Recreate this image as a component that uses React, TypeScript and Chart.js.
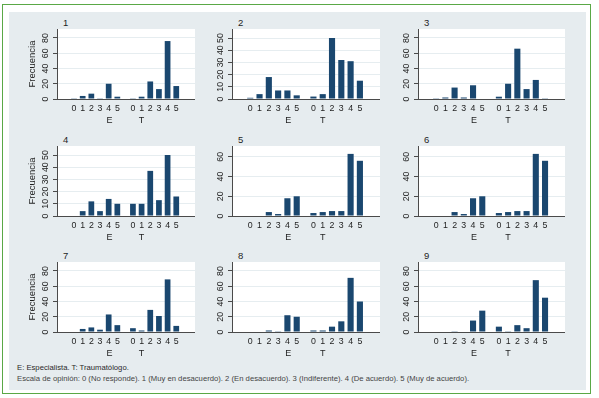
import React, { useEffect, useRef } from "react";
import { Chart, registerables } from "chart.js";

Chart.register(...registerables);

// ---- data ----
const categories = ["0", "1", "2", "3", "4", "5"];
const groupLabels = ["E", "T"];
const panelTitles = ["1", "2", "3", "4", "5", "6", "7", "8", "9"];
const yTitle = "Frecuencia";
const footLine1 = "E: Especialista. T: Traumatólogo.";
const footLine2 =
  "Escala de opinión: 0 (No responde). 1 (Muy en desacuerdo). 2 (En desacuerdo). 3 (Indiferente). 4 (De acuerdo). 5 (Muy de acuerdo).";

const e1 = [1, 4, 7, 1, 20, 3];
const t1 = [1, 3, 23, 13, 76, 17];
const e2 = [1, 4, 18, 7, 7, 3];
const t2 = [2, 4, 50, 32, 31, 15];
const e3 = [1, 2, 15, 2, 18, 0];
const t3 = [3, 20, 66, 13, 25, 1];
const e4 = [0, 4, 12, 4, 14, 10];
const t4 = [10, 10, 37, 13, 50, 16];
const e5 = [0, 0, 4, 2, 18, 20];
const t5 = [3, 4, 5, 5, 63, 56];
const e6 = [0, 0, 4, 2, 18, 20];
const t6 = [3, 4, 5, 5, 63, 56];
const e7 = [0, 4, 6, 3, 23, 9];
const t7 = [5, 2, 29, 21, 69, 8];
const e8 = [0, 0, 2, 1, 22, 20];
const t8 = [2, 2, 7, 14, 71, 40];
const e9 = [0, 0, 1, 0, 15, 28];
const t9 = [7, 1, 9, 5, 68, 45];

const yTicks80 = [0, 20, 40, 60, 80];
const yTicks50 = [0, 10, 20, 30, 40, 50];
const yTicks60 = [0, 20, 40, 60];

const panelE = [e1, e2, e3, e4, e5, e6, e7, e8, e9];
const panelT = [t1, t2, t3, t4, t5, t6, t7, t8, t9];
const panelTicks = [yTicks80, yTicks50, yTicks80, yTicks50, yTicks60, yTicks60, yTicks80, yTicks80, yTicks80];
const panelYMax = [91.8, 57.4, 91.8, 57.4, 71, 71, 91.8, 91.8, 91.8];

// ---- style / layout ----
const T_OFFSET = 6.8; // x position of first T bar
const X_MIN = -1.3;
const X_MAX = 13.3;
const BAR = "#1a476f";
const GRID = "#e6edf0";
const AXIS = "#4a4a4a";
const TEXT = "#1e1e1e";
const BG = "#e6ecef";
const GREEN = "#5aa846";
const FONT = "'Liberation Sans', Arial, sans-serif";

const colCanvasLeft = [20, 200, 388];
const colPlotLeft = [57, 232, 418];
const colPlotRight = [195, 380, 565];
const rowPlotTop = [29, 146, 262];
const PLOT_H = 70;
const XAX_H1 = 14;
const XAX_H2 = 14;

const whiteArea = {
  id: "whiteArea",
  beforeDraw(chart: any) {
    const { ctx, chartArea: a } = chart;
    ctx.save();
    ctx.fillStyle = "#ffffff";
    ctx.fillRect(a.left, a.top, a.right - a.left, a.bottom - a.top);
    ctx.restore();
  },
};

function Panel({ idx }: { idx: number }) {
  const ref = useRef<HTMLCanvasElement>(null);
  const col = idx % 3;
  const row = Math.floor(idx / 3);
  const left = colCanvasLeft[col];
  const width = colPlotRight[col] - left;
  const top = rowPlotTop[row];
  const height = PLOT_H + XAX_H1 + XAX_H2;

  useEffect(() => {
    const E = panelE[idx];
    const T = panelT[idx];
    const positions = [
      ...categories.map((_, i) => i),
      ...categories.map((_, i) => i + T_OFFSET),
    ];
    const values = [...E, ...T];
    const points = positions.map((x, i) => ({ x, y: values[i] }));
    const groupPos = [2.5, 2.5 + T_OFFSET];
    const yWidth = colPlotLeft[col] - left;

    const chart = new Chart(ref.current as HTMLCanvasElement, {
      type: "bar",
      data: {
        datasets: [
          {
            data: points as any,
            backgroundColor: BAR,
            borderWidth: 0,
            barPercentage: 0.66,
            categoryPercentage: 1,
          },
        ],
      },
      options: {
        animation: false,
        responsive: false,
        maintainAspectRatio: false,
        layout: { padding: 0 },
        plugins: { legend: { display: false }, tooltip: { enabled: false } },
        scales: {
          x: {
            type: "linear",
            position: "bottom",
            min: X_MIN,
            max: X_MAX,
            grid: { display: false, drawTicks: false },
            border: { display: true, color: AXIS, width: 1 },
            afterBuildTicks: (s: any) => {
              s.ticks = positions.map((v) => ({ value: v }));
            },
            ticks: {
              autoSkip: false,
              maxRotation: 0,
              minRotation: 0,
              padding: 3.8,
              color: TEXT,
              font: { family: FONT, size: 8.8 },
              callback: (_v: any, i: number) => categories[i % 6],
            },
            afterFit: (s: any) => {
              s.height = XAX_H1;
              s.paddingLeft = 0;
              s.paddingRight = 0;
            },
          },
          x2: {
            type: "linear",
            position: "bottom",
            min: X_MIN,
            max: X_MAX,
            grid: { display: false, drawTicks: false },
            border: { display: false },
            afterBuildTicks: (s: any) => {
              s.ticks = groupPos.map((v) => ({ value: v }));
            },
            ticks: {
              autoSkip: false,
              maxRotation: 0,
              minRotation: 0,
              padding: 2.5,
              color: TEXT,
              font: { family: FONT, size: 9 },
              callback: (_v: any, i: number) => groupLabels[i],
            },
            afterFit: (s: any) => {
              s.height = XAX_H2;
              s.paddingLeft = 0;
              s.paddingRight = 0;
            },
          },
          y: {
            type: "linear",
            min: 0,
            max: panelYMax[idx],
            grid: {
              display: true,
              color: GRID,
              tickColor: AXIS,
              tickLength: 4,
              drawTicks: true,
            },
            border: { display: true, color: AXIS, width: 1 },
            afterBuildTicks: (s: any) => {
              s.ticks = panelTicks[idx].map((v) => ({ value: v }));
            },
            ticks: {
              minRotation: 90,
              maxRotation: 90,
              crossAlign: "center",
              padding: 3,
              color: TEXT,
              font: { family: FONT, size: 8.8 },
              callback: (v: any) => String(v),
            },
            title: {
              display: col === 0,
              text: yTitle,
              color: TEXT,
              font: { family: FONT, size: 9.5 },
              padding: { top: 7, bottom: 0 },
            },
            afterFit: (s: any) => {
              s.width = yWidth;
              s.paddingTop = 0;
              s.paddingBottom = 0;
            },
          },
        },
      } as any,
      plugins: [whiteArea],
    });
    return () => chart.destroy();
  }, [idx]);

  return (
    <>
      <canvas
        ref={ref}
        width={width}
        height={height}
        style={{ position: "absolute", left, top, width, height }}
      />
      <span
        style={{
          position: "absolute",
          left: colPlotLeft[col] + 6,
          top: top - 12,
          fontFamily: FONT,
          fontSize: 9.5,
          color: TEXT,
          lineHeight: "11px",
        }}
      >
        {panelTitles[idx]}
      </span>
    </>
  );
}

export default function App() {
  return (
    <div
      style={{
        position: "fixed",
        left: 0,
        top: 0,
        width: 599,
        height: 398,
        background: "#ffffff",
        overflow: "hidden",
      }}
    >
      <div
        style={{
          position: "absolute",
          left: 2,
          top: 4,
          width: 589,
          height: 390,
          border: `1.5px solid ${GREEN}`,
          boxSizing: "border-box",
        }}
      />
      <div
        style={{
          position: "absolute",
          left: 9,
          top: 12,
          width: 577,
          height: 378,
          background: BG,
        }}
      />
      {panelTitles.map((_, i) => (
        <Panel key={i} idx={i} />
      ))}
      <div
        style={{
          position: "absolute",
          left: 17,
          top: 362,
          fontFamily: FONT,
          fontSize: 7.7,
          lineHeight: "11px",
          color: "#2a2a2a",
          whiteSpace: "nowrap",
        }}
      >
        <div>{footLine1}</div>
        <div style={{ color: "#444" }}>{footLine2}</div>
      </div>
    </div>
  );
}
